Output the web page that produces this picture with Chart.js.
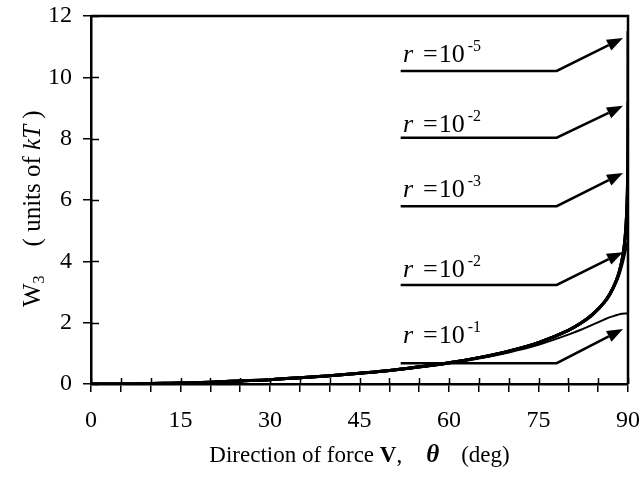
<!DOCTYPE html>
<html>
<head>
<meta charset="utf-8">
<title>W3 vs direction of force</title>
<script src="https://cdn.jsdelivr.net/npm/chart.js@4.4.0/dist/chart.umd.min.js"></script>
<style>
  html, body { margin: 0; padding: 0; background: #fff; }
  #wrap { width: 642px; height: 485px; }
</style>
</head>
<body>
<div id="wrap"><canvas id="w3Chart" width="642" height="485"></canvas></div>
<script>
// direction of force V, theta (deg) - packed tight near 90 where the curves shoot up
const thetaDeg = [0, 5, 10, 15, 20, 25, 30, 35, 40, 45, 50, 55, 60, 65, 70, 75, 80,
  82, 84, 86, 87, 88, 88.5, 89, 89.5, 89.8, 89.9, 89.95, 89.98, 89.99, 89.995, 89.999, 90];

// W3 in units of kT, one list per r
const wR1 = [0, 0, 0.01, 0.03, 0.06, 0.09, 0.14, 0.19, 0.26, 0.34, 0.43, 0.54, 0.67, 0.83, 1.03, 1.28, 1.61,
  1.76, 1.93, 2.10, 2.18, 2.24, 2.27, 2.29, 2.30, 2.30, 2.30, 2.30, 2.30, 2.30, 2.30, 2.30, 2.30];
const wR2 = [0, 0, 0.02, 0.03, 0.06, 0.1, 0.14, 0.2, 0.27, 0.35, 0.44, 0.56, 0.69, 0.86, 1.07, 1.35, 1.75,
  1.97, 2.25, 2.65, 2.93, 3.32, 3.58, 3.91, 4.32, 4.55, 4.59, 4.60, 4.60, 4.61, 4.61, 4.61, 4.61];
const wR3 = [0, 0, 0.02, 0.03, 0.06, 0.1, 0.14, 0.2, 0.27, 0.35, 0.44, 0.56, 0.69, 0.86, 1.07, 1.35, 1.75,
  1.97, 2.26, 2.66, 2.95, 3.36, 3.64, 4.05, 4.73, 5.65, 6.21, 6.62, 6.85, 6.89, 6.90, 6.91, 6.91];
const wR4 = [0, 0, 0.02, 0.03, 0.06, 0.1, 0.14, 0.2, 0.27, 0.35, 0.44, 0.56, 0.69, 0.86, 1.07, 1.35, 1.75,
  1.97, 2.26, 2.66, 2.95, 3.36, 3.64, 4.05, 4.74, 5.66, 6.35, 7.04, 7.92, 8.51, 8.93, 9.20, 9.21];
const wR5 = [0, 0, 0.02, 0.03, 0.06, 0.1, 0.14, 0.2, 0.27, 0.35, 0.44, 0.56, 0.69, 0.86, 1.07, 1.35, 1.75,
  1.97, 2.26, 2.66, 2.95, 3.36, 3.64, 4.05, 4.74, 5.66, 6.35, 7.04, 7.96, 8.65, 9.34, 10.75, 11.51];

const xTickLabels = [0, 15, 30, 45, 60, 75, 90];
const yTickLabels = [0, 2, 4, 6, 8, 10, 12];

// callout labels, top to bottom (exponent of r as printed)
const calloutExp = ['-5', '-2', '-3', '-2', '-1'];

const SERIF = "'Liberation Serif', 'Times New Roman', serif";

// where the callouts sit, in data units
const calloutBaseY = [10.50, 8.22, 6.10, 3.49, 1.34];
const calloutLineY = [10.21, 8.03, 5.80, 3.23, 0.68];
const calloutTipY = [11.28, 9.07, 6.88, 4.30, 1.79];
const CALLOUT_X = { text: 52.3, start: 51.9, elbow: 78.05, tip: 89.16 };

function toPoints(ys) {
    return ys.map((y, i) => ({ x: thetaDeg[i], y: y }));
}

function lineSet(label, ys, width) {
    return {
        label: label,
        data: toPoints(ys),
        borderColor: '#000',
        borderWidth: width,
        pointRadius: 0,
        fill: false,
        cubicInterpolationMode: 'monotone'
    };
}

// crossing ticks + top/right frame
const framePlugin = {
    id: 'frame',
    afterDatasetsDraw(chart) {
        const { ctx, chartArea: a, scales: { x, y } } = chart;
        ctx.save();
        ctx.strokeStyle = '#000';
        ctx.lineWidth = 1.5;
        ctx.beginPath();
        for (let t = 0; t <= 90; t += 5) {
            const px = Math.round(x.getPixelForValue(t)) + 0.5;
            ctx.moveTo(px, a.bottom);
            ctx.lineTo(px, a.bottom - 6);
        }
        yTickLabels.forEach(v => {
            const py = Math.round(y.getPixelForValue(v)) + 0.5;
            ctx.moveTo(a.left, py);
            ctx.lineTo(a.left + 8, py);
        });
        ctx.stroke();
        ctx.lineWidth = 2.5;
        ctx.beginPath();
        ctx.moveTo(a.left, a.top);
        ctx.lineTo(a.right, a.top);
        ctx.lineTo(a.right, a.bottom);
        ctx.stroke();
        ctx.restore();
    }
};

// "r = 10^n" labels with the bent arrows
const calloutPlugin = {
    id: 'callouts',
    afterDatasetsDraw(chart) {
        const { ctx, scales: { x, y } } = chart;
        ctx.save();
        ctx.strokeStyle = '#000';
        ctx.fillStyle = '#000';
        ctx.lineWidth = 2.5;
        calloutExp.forEach((exp, i) => {
            const x0 = x.getPixelForValue(CALLOUT_X.start);
            const x1 = x.getPixelForValue(CALLOUT_X.elbow);
            const x2 = x.getPixelForValue(CALLOUT_X.tip);
            const yl = y.getPixelForValue(calloutLineY[i]);
            const yt = y.getPixelForValue(calloutTipY[i]);
            const ang = Math.atan2(yt - yl, x2 - x1);
            const headLen = 16, headW = 6;
            const bx = x2 - headLen * Math.cos(ang), by = yt - headLen * Math.sin(ang);

            ctx.beginPath();
            ctx.moveTo(x0, yl);
            ctx.lineTo(x1, yl);
            ctx.lineTo(bx, by);
            ctx.stroke();

            ctx.beginPath();
            ctx.moveTo(x2, yt);
            ctx.lineTo(bx + headW * Math.sin(ang), by - headW * Math.cos(ang));
            ctx.lineTo(bx - headW * Math.sin(ang), by + headW * Math.cos(ang));
            ctx.closePath();
            ctx.fill();

            // text
            const tx = x.getPixelForValue(CALLOUT_X.text);
            const ty = y.getPixelForValue(calloutBaseY[i]);
            ctx.textAlign = 'left';
            ctx.textBaseline = 'alphabetic';
            ctx.font = 'italic 26px ' + SERIF;
            ctx.fillText('r', tx, ty);
            ctx.font = '26px ' + SERIF;
            ctx.fillText('=', tx + 20, ty);
            const eqW = ctx.measureText('=').width;
            ctx.fillText('10', tx + 21 + eqW, ty);
            const tenW = ctx.measureText('10').width;
            ctx.font = '16px ' + SERIF;
            ctx.fillText(exp, tx + 24 + eqW + tenW, ty - 11);
        });
        ctx.restore();
    }
};

// axis titles with mixed styles
const titlePlugin = {
    id: 'axisTitles',
    afterDraw(chart) {
        const { ctx, chartArea: a } = chart;
        ctx.save();
        ctx.fillStyle = '#000';
        ctx.textBaseline = 'alphabetic';
        ctx.textAlign = 'left';

        // x title: Direction of force V,  θ  (deg)
        const parts = [
            { t: 'Direction of force ', f: '23px ' + SERIF, gap: 0 },
            { t: 'V', f: 'bold 23px ' + SERIF, gap: 0 },
            { t: ',', f: '23px ' + SERIF, gap: 24 },
            { t: 'θ', f: 'italic bold 25px ' + SERIF, gap: 22 },
            { t: '(deg)', f: '23px ' + SERIF, gap: 0 }
        ];
        let total = 0;
        parts.forEach(p => { ctx.font = p.f; p.w = ctx.measureText(p.t).width; total += p.w + p.gap; });
        let px = (a.left + a.right) / 2 - total / 2;
        const py = 462;
        parts.forEach(p => { ctx.font = p.f; ctx.fillText(p.t, px, py); px += p.w + p.gap; });

        // y title: W3  ( units of kT )
        ctx.translate(40, 307);
        ctx.rotate(-Math.PI / 2);
        let u = 0;
        ctx.font = '25px ' + SERIF;
        ctx.fillText('W', u, 0);
        u += ctx.measureText('W').width;
        ctx.font = '16px ' + SERIF;
        ctx.fillText('3', u, 4);
        u += ctx.measureText('3').width + 29;
        ctx.font = '25px ' + SERIF;
        ctx.fillText('( units of ', u, 0);
        u += ctx.measureText('( units of ').width;
        ctx.font = 'italic 25px ' + SERIF;
        ctx.fillText('kT', u, 0);
        u += ctx.measureText('kT').width;
        ctx.font = '25px ' + SERIF;
        ctx.fillText(' )', u, 0);
        ctx.restore();
    }
};

const axisFont = { family: SERIF, size: 24 };

new Chart(document.getElementById('w3Chart'), {
    type: 'line',
    data: {
        datasets: [
            lineSet('r = 1e-1', wR1, 2),
            lineSet('r = 1e-2', wR2, 3),
            lineSet('r = 1e-3', wR3, 3),
            lineSet('r = 1e-4', wR4, 3),
            lineSet('r = 1e-5', wR5, 3)
        ]
    },
    options: {
        responsive: false,
        animation: false,
        layout: { padding: { top: 16, right: 14, left: 0, bottom: 0 } },
        plugins: { legend: { display: false }, tooltip: { enabled: false } },
        scales: {
            x: {
                type: 'linear',
                min: 0,
                max: 90,
                ticks: {
                    stepSize: 5,
                    autoSkip: false,
                    maxRotation: 0,
                    padding: 14,
                    color: '#000',
                    font: axisFont,
                    callback: v => xTickLabels.includes(v) ? String(v) : ''
                },
                grid: { drawOnChartArea: false, tickLength: 8, color: '#000', lineWidth: 1.5 },
                border: { display: true, color: '#000', width: 2.5 },
                afterFit: s => { s.height = 101; s.paddingLeft = 0; s.paddingRight = 0; }
            },
            y: {
                type: 'linear',
                min: 0,
                max: 12,
                afterBuildTicks: s => { s.ticks = yTickLabels.map(v => ({ value: v })); },
                ticks: { padding: 11, color: '#000', font: axisFont },
                grid: { drawOnChartArea: false, tickLength: 8, color: '#000', lineWidth: 1.5 },
                border: { display: true, color: '#000', width: 2.5 },
                afterFit: s => { s.width = 91; s.paddingTop = 0; s.paddingBottom = 0; }
            }
        }
    },
    plugins: [framePlugin, calloutPlugin, titlePlugin]
});
</script>
</body>
</html>
